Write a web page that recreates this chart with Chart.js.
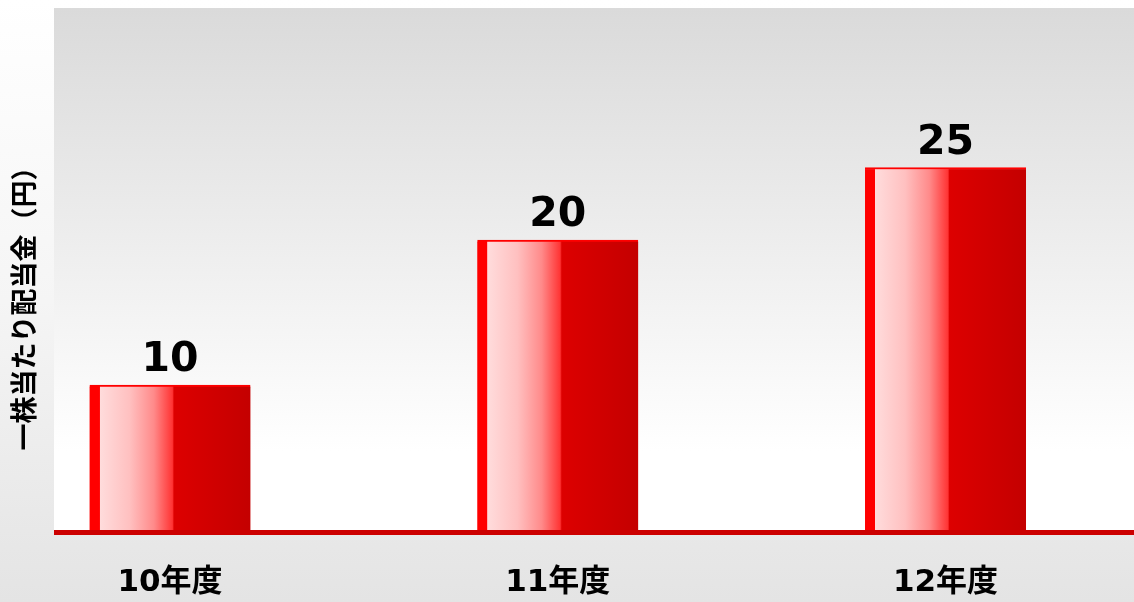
<!DOCTYPE html>
<html lang="ja">
<head>
    <meta charset="UTF-8">
    <title>一株当たり配当金</title>
    <script src="https://cdn.jsdelivr.net/npm/chart.js"></script>
    <style>
        body { margin: 0; background: #fff; }
        #wrap { width: 1134px; height: 602px; position: relative; }
    </style>
</head>
<body>
    <div id="wrap">
        <canvas id="dividend-chart"></canvas>
    </div>

    <script>
        // data
        var years = ['10年度', '11年度', '12年度'];
        var dividends = [10, 20, 25];
        var yTitle = '一株当たり配当金（円）';

        var points = dividends.map(function(v, i) { return { x: i, y: v }; });

        // page + plot backgrounds
        var backgroundPlugin = {
            id: 'bg',
            beforeDraw: function(chart) {
                var ctx = chart.ctx, a = chart.chartArea;
                var g = ctx.createLinearGradient(0, 0, 0, chart.height);
                g.addColorStop(0, '#ffffff');
                g.addColorStop(0.5, '#f5f5f5');
                g.addColorStop(0.88, '#e8e8e8');
                g.addColorStop(1, '#e4e4e4');
                ctx.save();
                ctx.fillStyle = g;
                ctx.fillRect(0, 0, chart.width, chart.height);
                var p = ctx.createLinearGradient(0, a.top, 0, a.bottom);
                p.addColorStop(0, '#dadada');
                p.addColorStop(0.85, '#ffffff');
                p.addColorStop(1, '#ffffff');
                ctx.fillStyle = p;
                ctx.fillRect(a.left, a.top, a.right - a.left, a.bottom - a.top);
                ctx.restore();
            }
        };

        // baseline, value labels, y title
        var decoPlugin = {
            id: 'deco',
            afterDatasetsDraw: function(chart) {
                var ctx = chart.ctx, a = chart.chartArea;
                ctx.save();
                ctx.fillStyle = '#cc0000';
                ctx.fillRect(a.left, a.bottom, a.right - a.left, 5);

                ctx.fillStyle = '#000';
                ctx.font = 'bold 41px "DejaVu Sans"';
                ctx.textAlign = 'center';
                ctx.textBaseline = 'alphabetic';
                chart.getDatasetMeta(0).data.forEach(function(bar, i) {
                    ctx.fillText(String(dividends[i]), bar.x, bar.y - 14);
                });

                ctx.translate(24, 302);
                ctx.rotate(-Math.PI / 2);
                ctx.font = 'bold 27px "Noto Sans CJK JP"';
                ctx.textBaseline = 'middle';
                ctx.fillText(yTitle, 0, 0);
                ctx.restore();
            }
        };

        var barWidth = 161;

        function barGradient(context) {
            var chart = context.chart;
            var xs = chart.scales.x;
            var cx = xs ? xs.getPixelForValue(context.dataIndex) : NaN;
            if (!isFinite(cx)) return '#d00000';
            var x0 = cx - barWidth / 2, x1 = cx + barWidth / 2;
            var g = chart.ctx.createLinearGradient(x0, 0, x1, 0);
            g.addColorStop(0, '#ff0000');
            g.addColorStop(0.062, '#ff0000');
            g.addColorStop(0.064, '#ffdcdc');
            g.addColorStop(0.25, '#ffc0c0');
            g.addColorStop(0.4, '#ff8a8a');
            g.addColorStop(0.515, '#ff3434');
            g.addColorStop(0.525, '#dd0000');
            g.addColorStop(1, '#c40000');
            return g;
        }

        var ctx = document.getElementById('dividend-chart').getContext('2d');
        var chart = new Chart(ctx, {
            type: 'bar',
            data: {
                datasets: [{
                    data: points,
                    backgroundColor: barGradient,
                    borderColor: '#ff0000',
                    borderWidth: { top: 2, left: 0, right: 0, bottom: 0 },
                    borderSkipped: false,
                    barThickness: barWidth
                }]
            },
            options: {
                responsive: true,
                maintainAspectRatio: false,
                animation: false,
                layout: { padding: { left: 54, top: 8, right: 0, bottom: 0 } },
                plugins: {
                    legend: { display: false },
                    tooltip: { enabled: false }
                },
                scales: {
                    x: {
                        type: 'linear',
                        offset: false,
                        min: -0.29916,
                        max: 2.4861,
                        grid: { display: false, drawTicks: false },
                        border: { display: false },
                        afterBuildTicks: function(scale) {
                            scale.ticks = years.map(function(y, i) { return { value: i }; });
                        },
                        afterFit: function(scale) { scale.height = 72; },
                        ticks: {
                            autoSkip: false,
                            maxRotation: 0,
                            padding: 34,
                            color: '#000',
                            font: { family: '"DejaVu Sans", "Noto Sans CJK JP"', size: 31, weight: 'bold' },
                            callback: function(v) { return years[v] !== undefined ? years[v] : ''; }
                        }
                    },
                    y: {
                        display: false,
                        min: 0,
                        max: 36
                    }
                }
            },
            plugins: [backgroundPlugin, decoPlugin]
        });
    </script>
</body>
</html>
